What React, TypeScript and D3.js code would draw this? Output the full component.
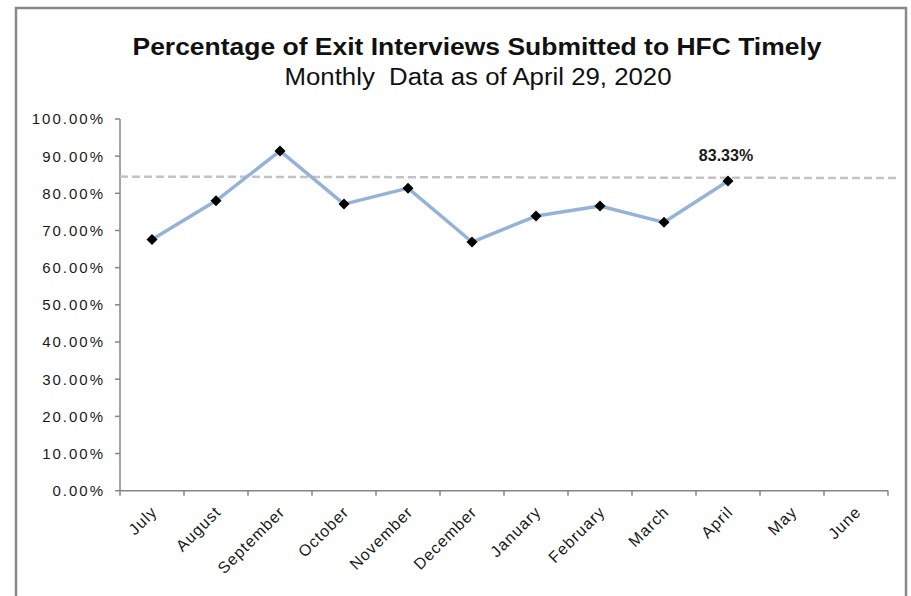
import React from "react";
import * as d3 from "d3";

const months = ["July", "August", "September", "October", "November", "December", "January", "February", "March", "April", "May", "June"];
const values: (number | null)[] = [67.6, 78.0, 91.4, 77.1, 81.4, 66.9, 73.9, 76.6, 72.2, 83.33, null, null];
const yTicks = [0, 10, 20, 30, 40, 50, 60, 70, 80, 90, 100];
const targetLine = [84.5, 84.1];
const titleText = "Percentage of Exit Interviews Submitted to HFC Timely";
const subtitleText = "Monthly  Data as of April 29, 2020";
const labelIndex = 9;

const W = 911, H = 596;
const left = 120, right = 888, top = 119, bottom = 490.7;
const FONT = "Liberation Sans, Arial, sans-serif";

export default function App() {
  const x = d3.scaleBand<string>().domain(months).range([left, right]).padding(0);
  const y = d3.scaleLinear().domain([0, 100]).range([bottom, top]);
  const cx = (m: string) => (x(m) as number) + x.bandwidth() / 2;

  const pts = months
    .map((m, i) => ({ m, v: values[i] }))
    .filter((d) => d.v !== null) as { m: string; v: number }[];
  const line = d3
    .line<{ m: string; v: number }>()
    .x((d) => cx(d.m))
    .y((d) => y(d.v));
  const r = 5.5;
  const diamond = `M0,${-r}L${r},0L0,${r}L${-r},0Z`;

  const edges = months.map((m) => x(m) as number).concat([right]);
  const lab = pts[labelIndex];

  return (
    <svg width={W} height={H} style={{ position: "absolute", left: 0, top: 0, background: "#fff" }}>
      <rect x={0} y={0} width={W} height={H} fill="#fff" />
      <rect x={16} y={8} width={890} height={620} fill="#fff" stroke="#898989" strokeWidth={2.5} />
      <text x={477} y={55} textAnchor="middle" fontFamily={FONT} fontWeight="bold" fontSize={23.5} fill="#111" textLength={689} lengthAdjust="spacingAndGlyphs">
        {titleText}
      </text>
      <text x={478} y={84.5} textAnchor="middle" fontFamily={FONT} fontSize={23} fill="#111" textLength={387} lengthAdjust="spacingAndGlyphs" style={{ whiteSpace: "pre" }}>
        {subtitleText}
      </text>
      {/* Y axis */}
      <line x1={left} x2={left} y1={top} y2={bottom} stroke="#868686" strokeWidth={1.5} />
      {yTicks.map((t) => (
        <g key={t}>
          <line x1={left - 5} x2={left} y1={y(t)} y2={y(t)} stroke="#868686" strokeWidth={1.5} />
          <text x={105} y={y(t)} dy="0.36em" textAnchor="end" fontFamily={FONT} fontSize={15} letterSpacing={2} fill="#1a1a1a">
            {t.toFixed(2) + "%"}
          </text>
        </g>
      ))}
      {/* X axis */}
      <line x1={left} x2={right} y1={bottom} y2={bottom} stroke="#868686" strokeWidth={1.5} />
      {edges.map((e, i) => (
        <line key={i} x1={e} x2={e} y1={bottom} y2={bottom + 5} stroke="#868686" strokeWidth={1.5} />
      ))}
      {months.map((m) => (
        <text key={m} transform={`translate(${cx(m) + 6},${513}) rotate(-45)`} textAnchor="end" fontFamily={FONT} fontSize={16} letterSpacing={1} fill="#1a1a1a">
          {m}
        </text>
      ))}
      {/* target line */}
      <line x1={left} x2={896} y1={y(targetLine[0])} y2={y(targetLine[1])} stroke="#c3c3c3" strokeWidth={2.5} strokeDasharray="8,4" />
      {/* series */}
      <path d={line(pts) as string} fill="none" stroke="#95b3d7" strokeWidth={3.5} strokeLinejoin="round" />
      {pts.map((d) => (
        <path key={d.m} d={diamond} transform={`translate(${cx(d.m)},${y(d.v)})`} fill="#000" />
      ))}
      <text x={cx(lab.m) - 2} y={161} textAnchor="middle" fontFamily={FONT} fontWeight="bold" fontSize={16} fill="#1a1a1a">
        {lab.v.toFixed(2) + "%"}
      </text>
    </svg>
  );
}
